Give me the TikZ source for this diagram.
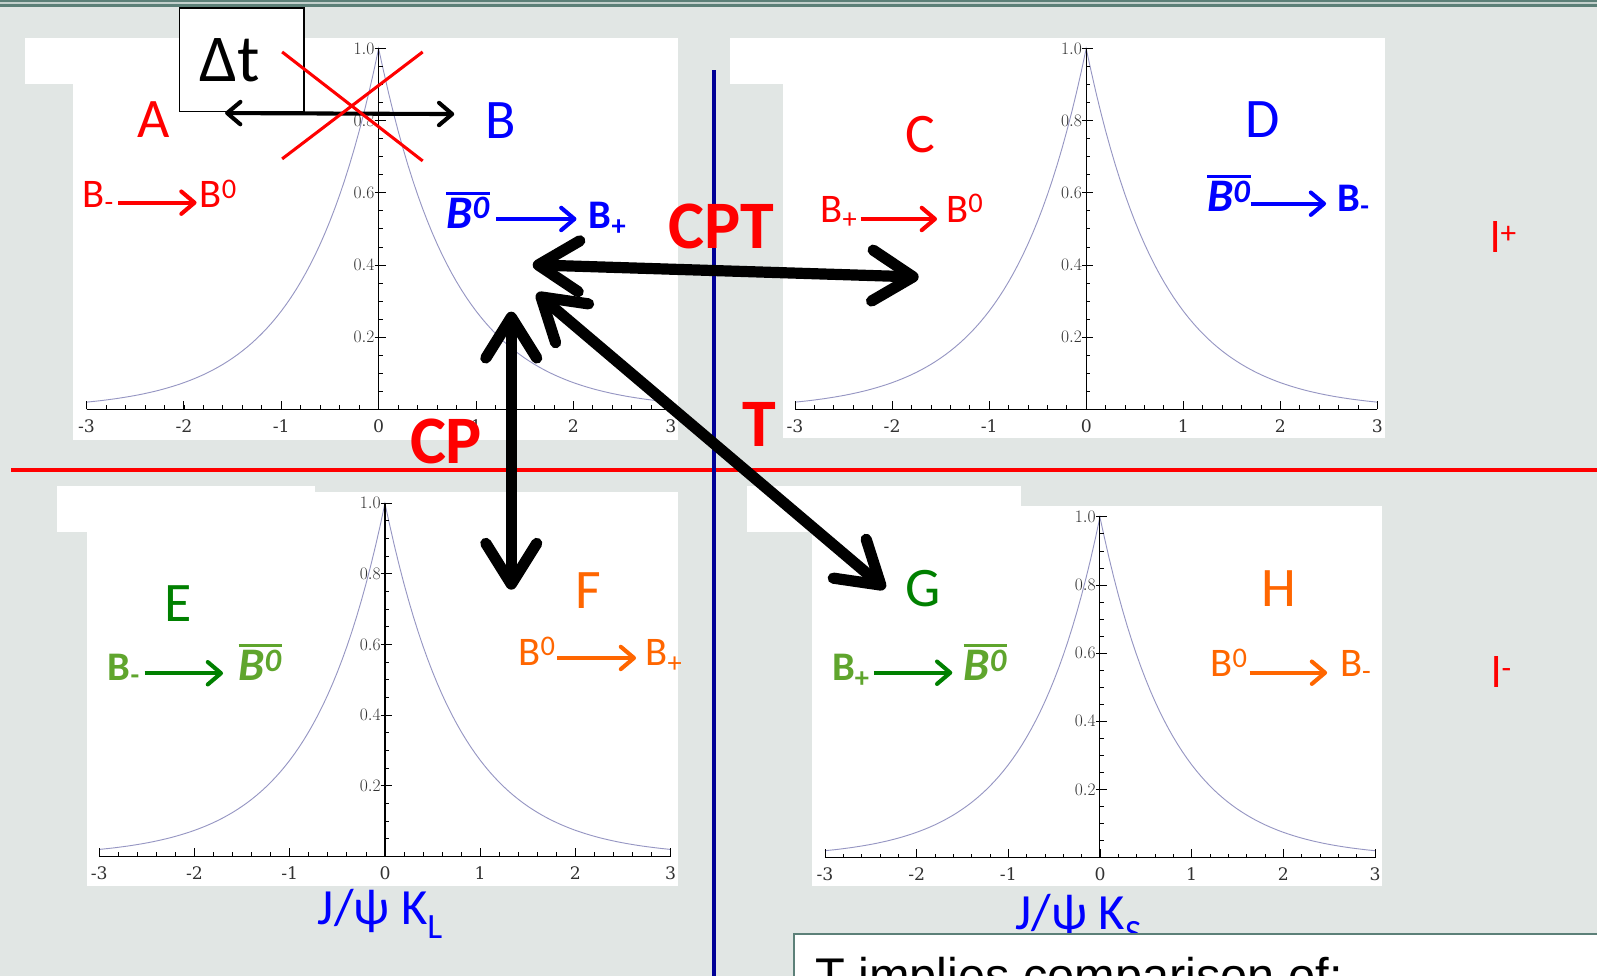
\documentclass[tikz,border=0pt]{standalone}
\usepackage{fontspec}
\setmainfont{Carlito}
\newfontfamily\tickfont{DejaVu Serif}
\newfontfamily\boxfont{Liberation Sans}
\usetikzlibrary{arrows.meta}

\definecolor{bgcol}{RGB}{225,230,228}
\definecolor{stripecol}{RGB}{92,128,120}
\definecolor{stripelight}{RGB}{195,208,204}
\definecolor{curvecol}{RGB}{150,150,195}
\definecolor{navy}{RGB}{0,0,150}
\definecolor{dkgreen}{RGB}{0,128,0}
\definecolor{ltgreen}{RGB}{95,165,45}
\definecolor{orng}{RGB}{255,102,0}
\definecolor{tickgray}{RGB}{50,50,50}
\definecolor{lred}{RGB}{255,0,0}
\definecolor{lblue}{RGB}{0,0,255}

\newcommand{\bbarzero}{\leavevmode\vbox{\hrule height 2.8bp\kern 3bp\hbox{\fontsize{46}{50}\selectfont\bfseries\itshape B\textsuperscript{0}}}}

\tikzset{
  bigarr/.style={line width=11bp, arrows={Straight Barb[length=40bp,width=50bp,round]-Straight Barb[length=40bp,width=50bp,round]}},
  fmarr/.style={line width=4bp, arrows={-Straight Barb[length=13bp,width=22bp,round]}},
  dtarr/.style={line width=4bp, arrows={Straight Barb[length=13bp,width=22bp,round]-Straight Barb[length=13bp,width=22bp,round]}},
  biglet/.style={font=\fontsize{55}{60}\selectfont, inner sep=0pt, anchor=base},
  boldlbl/.style={font=\fontsize{67}{70}\selectfont\bfseries, text=lred, inner sep=0pt, anchor=base},
  fm/.style={font=\fontsize{40}{44}\selectfont, inner sep=0pt},
  panel/.style={fill=white, draw=none},
  ticklbl/.style={font=\tickfont\fontsize{17}{18}\selectfont, text=tickgray, inner sep=0pt}
}

\newcommand{\decayplot}[4]{%
  \begin{scope}[shift={(#1,#2)}, x=#3bp, y=#4bp]
    \draw[curvecol, line width=0.9bp] plot[domain=-3:3, samples=121] (\x,{exp(-1.3*abs(\x))});
    \draw[black, line width=1bp] (-3,0) -- (3,0);
    \draw[black, line width=1bp] (0,0) -- (0,1);
    \foreach \t in {-3,-2.8,...,3.05} \draw[black, line width=0.8bp] (\t,0) -- ++(0pt,4bp);
    \foreach \t in {-3,...,3} \draw[black, line width=0.9bp] (\t,0) -- ++(0pt,8bp);
    \foreach \v in {0.05,0.1,...,0.97} \draw[black, line width=0.8bp] (0,\v) -- ++(4bp,0pt);
    \foreach \v in {0.2,0.4,0.6,0.8,1.0} \draw[black, line width=0.9bp] ([xshift=-4bp]0,\v) -- ++(11bp,0pt);
    \foreach \t/\l in {-3/-3,-2/-2,-1/-1,0/0,1/1,2/2,3/3}
      \node[ticklbl, anchor=north] at ([yshift=-10bp]\t,0) {\l};
    \foreach \v in {0.2,0.4,0.6,0.8,1.0}
      \node[ticklbl, anchor=east, font=\tickfont\fontsize{18.5}{19}\selectfont] at ([xshift=-4bp]0,\v) {\pgfmathprintnumber[fixed,precision=1,zerofill]{\v}};
  \end{scope}}

\begin{document}
\begin{tikzpicture}[x=1bp, y=-1bp]
\useasboundingbox (0,0) rectangle (1568,958);
\clip (0,0) rectangle (1568,958);
% background
\fill[bgcol] (0,0) rectangle (1568,958);
\fill[stripecol] (0,0) rectangle (1568,6.9);
\fill[stripelight] (0,2.3) rectangle (1568,4.2);

% white panels
\fill[panel] (25,37) rectangle (666,82);
\fill[panel] (72,81) rectangle (666,432);
\fill[panel] (717,37) rectangle (1360,82);
\fill[panel] (769,81) rectangle (1360,430);
\fill[panel] (56,477) rectangle (309,522);
\fill[panel] (85,483) rectangle (666,870);
\fill[panel] (733,477) rectangle (1002,522);
\fill[panel] (797,497) rectangle (1357,870);

% plots
\decayplot{371.8}{402}{95.6}{354.5}
\decayplot{1066.5}{402}{95.3}{354.5}
\decayplot{378}{841}{93.5}{347}
\decayplot{1080}{842}{90}{334.5}

% dividing lines
\draw[lred, line width=4bp] (11,461.5) -- (1568,461.5);
\draw[navy, line width=4.5bp] (701,69) -- (701,958);

% Delta t box
\node[draw=black, line width=1.6bp, fill=white, minimum width=122bp, minimum height=101.5bp, inner sep=0pt, anchor=north west] (dtbox) at (175.4,7.2) {};
\node[font=\fontsize{66}{70}\selectfont, inner sep=0pt, anchor=base west] (dt) at (195.5,80.5) {Δt};
\coordinate (dtL) at (221,111);
\coordinate (dtR) at (446,112);
\draw[dtarr, black] (dtL) -- (dtR);
\coordinate (x1a) at (277,51);
\coordinate (x1b) at (415,158);
\coordinate (x2a) at (415,51);
\coordinate (x2b) at (277,156);
\draw[lred, line width=3bp] (x1a) -- (x1b);
\draw[lred, line width=3bp] (x2a) -- (x2b);

% big letters
\node[biglet, text=lred] (A) at (151,135) {A};
\node[biglet, text=lblue] (B) at (492,136) {B};
\node[biglet, text=lred] (C) at (904,150) {C};
\node[biglet, text=lblue] (D) at (1240,135) {D};
\node[biglet, text=dkgreen] (E) at (175,610.5) {E};
\node[biglet, text=orng] (F) at (578,597) {F};
\node[biglet, text=dkgreen] (G) at (906,595) {G};
\node[biglet, text=orng] (H) at (1256,595.5) {H};

% formulas TL
\node[fm, text=lred, anchor=base east] (tlRL) at (112,204) {B\textsubscript{-}};
\node[fm, text=lred, anchor=base west] (tlRR) at (196,204) {B\textsuperscript{0}};
\draw[fmarr, lred] ([xshift=4bp,yshift=5bp]tlRL.base east) -- ([xshift=-3bp,yshift=5bp]tlRR.base west);
\node[fm, text=lblue, anchor=base east] (tlBL) at (481,224) {\bbarzero};
\node[fm, text=lblue, anchor=base west] (tlBR) at (578,224) {\bfseries B\textsubscript{+}};
\draw[fmarr, lblue] ([xshift=6bp,yshift=9bp]tlBL.base east) -- ([xshift=-12bp,yshift=9bp]tlBR.base west);

% formulas TR
\node[fm, text=lred, anchor=base east] (trRL) at (842,218) {B\textsubscript{+}};
\node[fm, text=lred, anchor=base west] (trRR) at (929,218) {B\textsuperscript{0}};
\draw[fmarr, lred] ([xshift=3bp,yshift=3bp]trRL.base east) -- ([xshift=-9bp,yshift=3bp]trRR.base west);
\node[fm, text=lblue, anchor=base east] (trBL) at (1228,208) {\bbarzero};
\node[fm, text=lblue, anchor=base west] (trBR) at (1313,208) {\bfseries B\textsubscript{-}};
\draw[fmarr, lblue] ([xshift=0bp,yshift=8bp]trBL.base east) -- ([xshift=-11bp,yshift=8bp]trBR.base west);

% formulas BL
\node[fm, text=ltgreen, anchor=base east] (blGL) at (137.5,668) {\bfseries B\textsubscript{-}};
\node[fm, text=ltgreen, anchor=base west] (blGR) at (234,668) {\bbarzero};
\draw[fmarr, dkgreen] ([xshift=4.5bp,yshift=7bp]blGL.base east) -- ([xshift=-15bp,yshift=7bp]blGR.base west);
\node[fm, text=orng, anchor=base east] (blOL) at (545.6,653) {B\textsuperscript{0}};
\node[fm, text=orng, anchor=base west] (blOR) at (633.5,653) {B\textsubscript{+}};
\draw[fmarr, orng] ([xshift=1.5bp,yshift=7bp]blOL.base east) -- ([xshift=-9bp,yshift=7bp]blOR.base west);

% formulas BR
\node[fm, text=ltgreen, anchor=base east] (brGL) at (854,668) {\bfseries B\textsubscript{+}};
\node[fm, text=ltgreen, anchor=base west] (brGR) at (946,668) {\bbarzero};
\draw[fmarr, dkgreen] ([xshift=4bp,yshift=7.5bp]brGL.base east) -- ([xshift=-11bp,yshift=7.5bp]brGR.base west);
\node[fm, text=orng, anchor=base east] (brOL) at (1225,664.5) {B\textsuperscript{0}};
\node[fm, text=orng, anchor=base west] (brOR) at (1315.6,664.5) {B\textsubscript{-}};
\draw[fmarr, orng] ([xshift=2bp,yshift=4bp]brOL.base east) -- ([xshift=-12.6bp,yshift=4bp]brOR.base west);

% lepton tags
\node[font=\fontsize{44}{48}\selectfont, text=lred, inner sep=0pt, anchor=base west] (lp) at (1463,248) {l\textsuperscript{+}};
\node[font=\fontsize{44}{48}\selectfont, text=lred, inner sep=0pt, anchor=base west] (lm) at (1464,675) {l\textsuperscript{-}};

% final states
\node[font=\fontsize{50}{54}\selectfont, text=lblue, inner sep=0pt, anchor=base west] (kl) at (312,908) {J/ψ K\textsubscript{L}};
\node[font=\fontsize{50}{54}\selectfont, text=lblue, inner sep=0pt, anchor=base west] (ks) at (997,913) {J/ψ K\textsubscript{S}};

% symmetry labels
\node[boldlbl] (cpt) at (708,243.6) {CPT};
\node[boldlbl] (cp) at (438,455.5) {CP};
\node[boldlbl] (t) at (745.6,438.7) {T};

% big arrows
\coordinate (cptL) at (523,260);
\coordinate (cptR) at (902,272);
\coordinate (cpU) at (502,306);
\coordinate (cpD) at (502,579);
\coordinate (tU) at (527,288);
\coordinate (tD) at (869,578);
\draw[bigarr, black] (cptL) -- (cptR);
\draw[bigarr, black] (cpU) -- (cpD);
\draw[bigarr, black] (tU) -- (tD);

% bottom text box
\fill[white] (780,917) rectangle (1600,1000);
\draw[stripecol, line width=2bp] (780,1000) -- (780,917) -- (1600,917);
\node[font=\boxfont\fontsize{48}{52}\selectfont, inner sep=0pt, anchor=base west] (note) at (800,974) {T implies comparison of:};
\end{tikzpicture}
\end{document}
